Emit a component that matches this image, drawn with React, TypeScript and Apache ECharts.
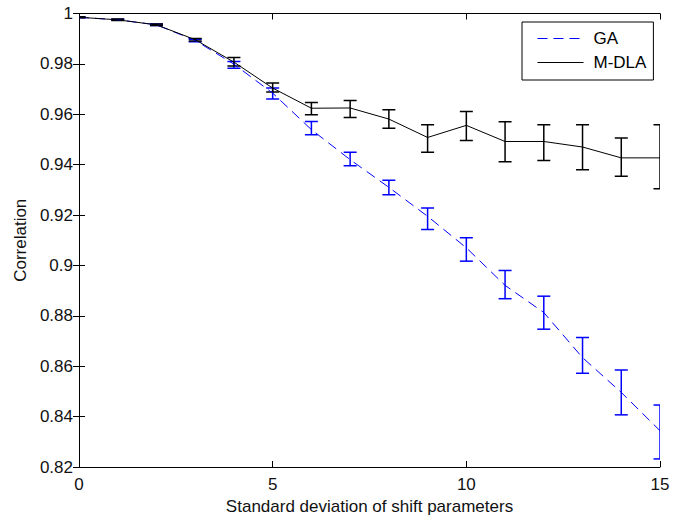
import React, { useEffect, useRef } from "react";
import * as echarts from "echarts";

const xs = [0, 1, 2, 3, 4, 5, 6, 7, 8, 9, 10, 11, 12, 13, 14, 15];
const gaMean = [0.9985, 0.9975, 0.9955, 0.9893, 0.9799, 0.9684, 0.9539, 0.942, 0.931, 0.9195, 0.907, 0.8921, 0.8813, 0.8634, 0.8496, 0.8344];
const gaLow = [0.9983, 0.9973, 0.9952, 0.9888, 0.9783, 0.9661, 0.9519, 0.9396, 0.9281, 0.9143, 0.9017, 0.8868, 0.8747, 0.8572, 0.8407, 0.8232];
const gaHigh = [0.9987, 0.9977, 0.9958, 0.9898, 0.9809, 0.9704, 0.9571, 0.9449, 0.9338, 0.9228, 0.911, 0.898, 0.8878, 0.8714, 0.8585, 0.8446];
const mdlaMean = [0.9985, 0.9975, 0.9955, 0.9896, 0.9807, 0.9704, 0.9624, 0.9625, 0.9581, 0.9508, 0.9556, 0.9492, 0.9492, 0.947, 0.9427, 0.9427];
const mdlaLow = [0.9983, 0.9972, 0.9952, 0.9891, 0.9792, 0.9688, 0.9598, 0.9587, 0.9545, 0.9449, 0.9496, 0.9412, 0.9417, 0.938, 0.9354, 0.9304];
const mdlaHigh = [0.9987, 0.9978, 0.9958, 0.9901, 0.9825, 0.9724, 0.9647, 0.9655, 0.9618, 0.9558, 0.9611, 0.957, 0.9558, 0.9558, 0.9506, 0.9558];

const seriesNames = ["GA", "M-DLA"];
const xAxisName = "Standard deviation of shift parameters";
const yAxisName = "Correlation";

const FONT = "'Liberation Sans', Arial, Helvetica, sans-serif";
const BLUE = "#0000ff";
const BLACK = "#000000";

function errorBarRender(color: string) {
  return (params: any, api: any) => {
    const x = api.value(0);
    const lo = api.coord([x, api.value(1)]);
    const hi = api.coord([x, api.value(2)]);
    const hw = 6.5;
    const style = { stroke: color, lineWidth: 1.5, fill: null };
    return {
      type: "group",
      children: [
        { type: "line", shape: { x1: lo[0], y1: lo[1], x2: hi[0], y2: hi[1] }, style },
        { type: "line", shape: { x1: lo[0] - hw, y1: lo[1], x2: lo[0] + hw, y2: lo[1] }, style },
        { type: "line", shape: { x1: hi[0] - hw, y1: hi[1], x2: hi[0] + hw, y2: hi[1] }, style },
      ],
    };
  };
}

export default function App() {
  const ref = useRef<HTMLDivElement>(null);
  useEffect(() => {
    if (!ref.current) return;
    const chart = echarts.init(ref.current, undefined, { renderer: "svg" });
    const axisLineStyle = { color: BLACK, width: 1 };
    const label = { fontFamily: FONT, fontSize: 17, color: "#111" };
    chart.setOption({
      animation: false,
      backgroundColor: "#ffffff",
      grid: { left: 79, right: 34, top: 13.5, bottom: 52, containLabel: false },
      legend: {
        orient: "vertical",
        left: 522,
        top: 22,
        backgroundColor: "#ffffff",
        borderColor: BLACK,
        borderWidth: 1,
        borderRadius: 0,
        padding: [8, 7, 9, 15],
        itemGap: 7,
        itemWidth: 46,
        itemHeight: 17,
        itemStyle: { opacity: 0 },
        lineStyle: { width: 1 },
        textStyle: { ...label, color: BLACK, padding: [0, 0, 0, 5] },
        data: seriesNames,
      },
      xAxis: [
        {
          type: "value",
          min: 0,
          max: 15,
          interval: 5,
          position: "bottom",
          name: xAxisName,
          nameLocation: "middle",
          nameGap: 31,
          nameTextStyle: label,
          axisLine: { show: true, lineStyle: axisLineStyle },
          axisTick: { show: true, inside: true, length: 6, lineStyle: axisLineStyle },
          axisLabel: { ...label, margin: 9 },
          splitLine: { show: false },
        },
        {
          type: "value",
          min: 0,
          max: 15,
          interval: 5,
          position: "top",
          axisLine: { show: true, lineStyle: axisLineStyle },
          axisTick: { show: true, inside: true, length: 6, lineStyle: axisLineStyle },
          axisLabel: { show: false },
          splitLine: { show: false },
        },
      ],
      yAxis: [
        {
          type: "value",
          min: 0.82,
          max: 1,
          interval: 0.02,
          position: "left",
          name: yAxisName,
          nameLocation: "middle",
          nameGap: 48,
          nameTextStyle: label,
          axisLine: { show: true, lineStyle: axisLineStyle },
          axisTick: { show: true, inside: true, length: 6, lineStyle: axisLineStyle },
          axisLabel: { ...label, margin: 6, formatter: (v: number) => String(+v.toFixed(2)) },
          splitLine: { show: false },
        },
        {
          type: "value",
          min: 0.82,
          max: 1,
          interval: 0.02,
          position: "right",
          axisLine: { show: true, lineStyle: axisLineStyle },
          axisTick: { show: true, inside: true, length: 6, lineStyle: axisLineStyle },
          axisLabel: { show: false },
          splitLine: { show: false },
        },
      ],
      series: [
        {
          name: seriesNames[0],
          type: "line",
          data: xs.map((x, i) => [x, gaMean[i]]),
          symbol: "none",
          lineStyle: { color: BLUE, width: 1, type: [10, 6] },
          itemStyle: { color: BLUE },
          xAxisIndex: 0,
          yAxisIndex: 0,
          clip: true,
        },
        {
          name: seriesNames[0],
          type: "custom",
          data: xs.map((x, i) => [x, gaLow[i], gaHigh[i]]),
          renderItem: errorBarRender(BLUE),
          encode: { x: 0, y: [1, 2] },
          clip: true,
          silent: true,
          z: 2,
        },
        {
          name: seriesNames[1],
          type: "line",
          data: xs.map((x, i) => [x, mdlaMean[i]]),
          symbol: "none",
          lineStyle: { color: BLACK, width: 1, type: "solid" },
          itemStyle: { color: BLACK },
          xAxisIndex: 0,
          yAxisIndex: 0,
          clip: true,
          z: 3,
        },
        {
          name: seriesNames[1],
          type: "custom",
          data: xs.map((x, i) => [x, mdlaLow[i], mdlaHigh[i]]),
          renderItem: errorBarRender(BLACK),
          encode: { x: 0, y: [1, 2] },
          clip: true,
          silent: true,
          z: 3,
        },
      ],
    });
    return () => chart.dispose();
  }, []);
  return (
    <div
      ref={ref}
      style={{ position: "fixed", left: 0, top: 0, width: 694, height: 520, background: "#fff" }}
    />
  );
}
